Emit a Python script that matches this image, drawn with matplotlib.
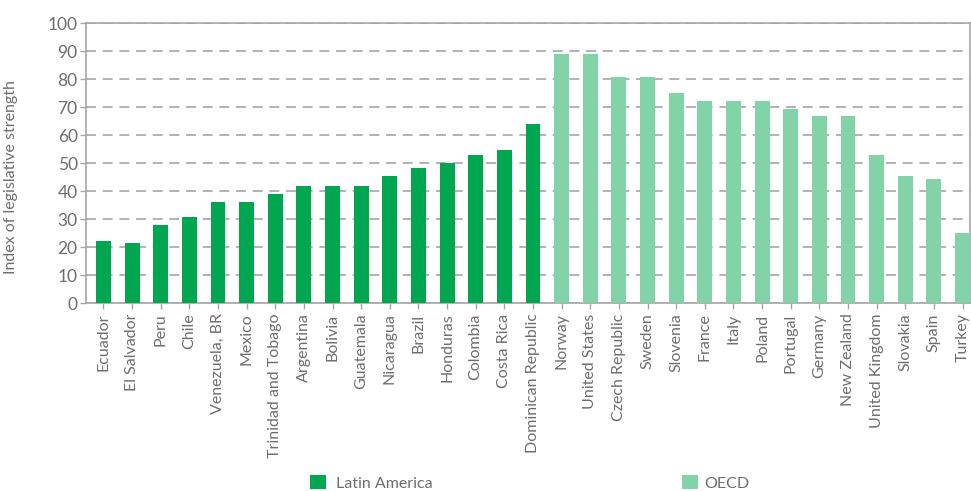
import numpy as np
import matplotlib.pyplot as plt
from matplotlib.patches import Patch

plt.rcParams['font.family'] = ['Lato', 'DejaVu Sans']

latam_countries = ["Ecuador", "El Salvador", "Peru", "Chile", "Venezuela, BR", "Mexico",
                   "Trinidad and Tobago", "Argentina", "Bolivia", "Guatemala", "Nicaragua",
                   "Brazil", "Honduras", "Colombia", "Costa Rica", "Dominican Republic"]
latam_values = [22.2, 21.4, 27.8, 30.6, 36.1, 36.1, 38.9, 41.7, 41.7, 41.7, 45.4,
                48.1, 50.0, 52.8, 54.6, 63.9]

oecd_countries = ["Norway", "United States", "Czech Republic", "Sweden", "Slovenia", "France",
                  "Italy", "Poland", "Portugal", "Germany", "New Zealand", "United Kingdom",
                  "Slovakia", "Spain", "Turkey"]
oecd_values = [88.9, 88.9, 80.6, 80.6, 75.0, 72.2, 72.2, 72.2, 69.4, 66.7, 66.7, 52.8,
               45.4, 44.4, 25.0]

dark_green = "#00a650"
light_green = "#82d3a8"
text_gray = "#6e6e6e"
line_gray = "#a6a6a6"

fig = plt.figure(figsize=(9.71, 4.91), dpi=100)
ax = fig.add_axes([86 / 971, 1 - 303 / 491, 884 / 971, 280 / 491])

x_lat = np.arange(len(latam_countries))
x_oecd = np.arange(len(oecd_countries)) + len(latam_countries)
ax.bar(x_lat, latam_values, width=0.52, color=dark_green, zorder=3)
ax.bar(x_oecd, oecd_values, width=0.52, color=light_green, zorder=3)

ax.set_xlim(-0.61, 30.26)
ax.set_ylim(0, 100)
ax.set_yticks(range(0, 101, 10))
ax.set_xticks(np.arange(len(latam_countries) + len(oecd_countries)))
ax.set_xticklabels(latam_countries + oecd_countries, rotation=90)

ax.yaxis.grid(True, linestyle=(0, (6, 4)), color=line_gray, linewidth=1.2, zorder=0)
ax.set_axisbelow(True)
for s in ax.spines.values():
    s.set_color(line_gray)
    s.set_linewidth(1.2)

ax.tick_params(axis='both', colors=line_gray, labelcolor=text_gray, labelsize=11.5,
               length=4, width=1)
ax.tick_params(axis='y', labelsize=12.5, pad=2)

ax.set_ylabel("Index of legislative strength", color=text_gray, fontsize=11.5)
ax.yaxis.set_label_coords(-0.077, 0.45)

h1 = Patch(facecolor=dark_green, edgecolor='none')
h2 = Patch(facecolor=light_green, edgecolor='none')
fig.legend([h1], ["Latin America"], loc='center left', bbox_to_anchor=(296 / 971, 1 - 483 / 491),
           frameon=False, fontsize=11.5, labelcolor=text_gray, handlelength=1.0,
           handleheight=1.0, handletextpad=0.6)
fig.legend([h2], ["OECD"], loc='center left', bbox_to_anchor=(668 / 971, 1 - 483 / 491),
           frameon=False, fontsize=11.5, labelcolor=text_gray, handlelength=1.0,
           handleheight=1.0, handletextpad=0.4)

fig.savefig("out.png", dpi=100)
